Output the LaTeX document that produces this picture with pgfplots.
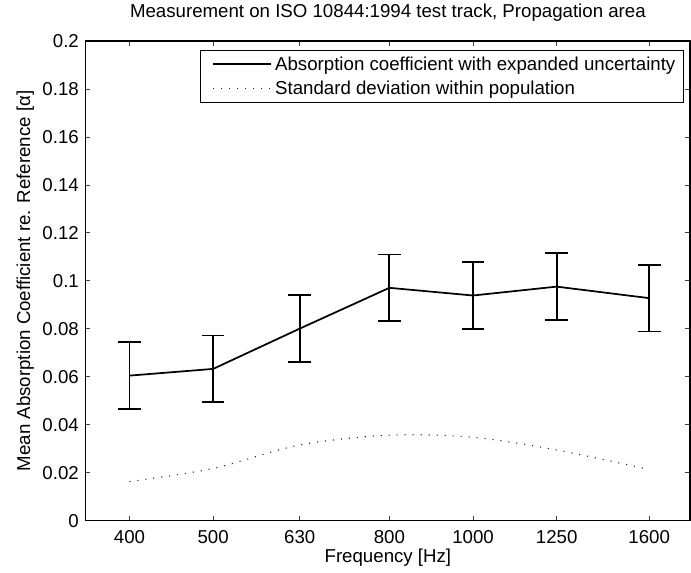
\documentclass[border=0pt]{standalone}
\usepackage{fontspec}
\setmainfont{Liberation Sans}
\usepackage{pgfplots}
\pgfplotsset{compat=1.18}
\usepackage{pgfplotstable}

\pgfplotstableread{
f     m       e
400   0.0605  0.0139
500   0.0633  0.0139
630   0.0801  0.0139
800   0.0971  0.0139
1000  0.0939  0.0139
1250  0.0976  0.0139
1600  0.0928  0.0139
}\meandata

\pgfplotstableread{
f     s
400   0.0163
500   0.0218
630   0.0316
800   0.0357
1000  0.0348
1250  0.0295
1600  0.0214
}\stddata

\begin{document}
\fontsize{14pt}{16.8pt}\selectfont
\begin{tikzpicture}
\begin{axis}[
  name=ax,
  scale only axis,
  width=453.2pt, height=359.8pt,
  xmode=log,
  xmin=356, xmax=1784,
  ymin=0, ymax=0.2,
  xtick={400,500,630,800,1000,1250,1600},
  xticklabels={400,500,630,800,1000,1250,1600},
  minor xtick={},
  ytick={0,0.02,0.04,0.06,0.08,0.1,0.12,0.14,0.16,0.18,0.2},
  scaled y ticks=false,
  /pgf/number format/fixed,
  /pgf/number format/precision=2,
  /pgf/number format/assume math mode=true,
  tick align=inside,
  major tick length=3.5pt,
  tick style={line width=0.6pt, black!75},
  axis line style={line width=0.9pt},
  font=\fontsize{14pt}{16.8pt}\selectfont,
  title={Measurement on ISO 10844:1994 test track, Propagation area},
  title style={at={(axis description cs:0.5,1.03196)}, anchor=base, inner sep=0pt},
  xlabel={Frequency [Hz]},
  xlabel style={at={(axis description cs:0.5,-0.08616)}, anchor=base, inner sep=0pt},
  ylabel={Mean Absorption Coefficient re. Reference [α]},
  ylabel style={at={(axis description cs:-0.09223,0.5)}, anchor=base, inner sep=0pt},
  xticklabel style={anchor=base, yshift=-16.7pt, inner sep=0pt},
  yticklabel style={anchor=east, xshift=-5pt, inner sep=0pt},
  legend cell align=left,
  legend style={at={(axis description cs:1,1)}, anchor=north east,
    xshift=-5pt, yshift=-7pt, inner xsep=5.7pt, inner ysep=1pt,
    row sep=0pt, column sep=0pt, line width=0.6pt, draw=black,
    nodes={inner xsep=0pt, inner ysep=0pt, text height=13.5pt, text depth=5pt, anchor=base west}},
  legend image code/.code={
    \path[draw=none] (0pt,0pt) -- (3.5pt,0pt);
    \draw[#1] (3.5pt,4.7pt) -- (47pt,4.7pt);
    \path[draw=none] (50pt,0pt) -- (49pt,0pt);
  },
]
\addplot[black, line width=1.3pt, mark=none,
  error bars/.cd, y dir=both, y explicit,
  error bar style={line width=1.3pt, black},
  error mark options={rotate=90, mark size=8.5pt, line width=1.3pt, black}]
  table[x=f, y=m, y error=e] {\meandata};
\addlegendentry{Absorption coefficient with expanded uncertainty}
\addplot[black!85, line width=0.85pt, dash pattern=on 0.8pt off 5.2pt, smooth, mark=none]
  table[x=f, y=s] {\stddata};
\addlegendentry{Standard deviation within population}
\end{axis}
\pgfresetboundingbox
\path ([shift={(-64.3pt,-38.5pt)}]ax.south west) rectangle ([shift={(0.75pt,30.75pt)}]ax.north east);
\end{tikzpicture}
\end{document}
